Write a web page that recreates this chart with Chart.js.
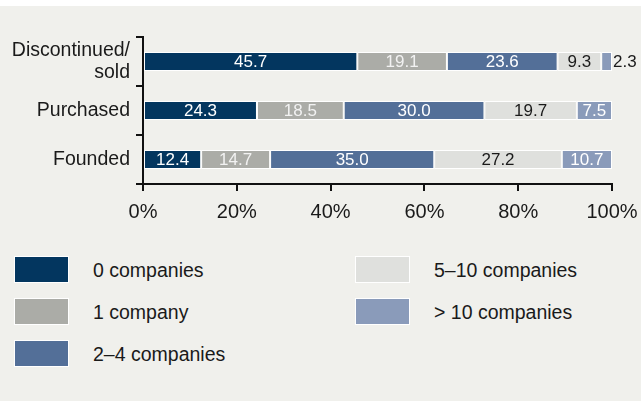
<!DOCTYPE html>
<html>
<head>
<meta charset="utf-8">
<script src="https://cdn.jsdelivr.net/npm/chart.js@4/dist/chart.umd.min.js"></script>
<style>
  html, body { margin:0; padding:0; }
  body { width:641px; height:401px; background:#f0f0ec; position:relative; overflow:hidden; font-family:"Liberation Sans",sans-serif; color:#1a1a1a; }
  #topstrip { position:absolute; left:0; top:0; width:641px; height:6px; background:#ffffff; }
  #wrap { position:absolute; left:0; top:0; width:641px; height:240px; }
  .sw { position:absolute; width:53px; height:25px; border:1px solid #ffffff; }
  .lt { position:absolute; height:27px; line-height:27px; font-size:19.5px; white-space:nowrap; }
</style>
</head>
<body>
<div id="topstrip"></div>
<div id="wrap"><canvas id="c" width="641" height="240"></canvas></div>
<div id="legend"></div>
<script>
// ---- data ----
const categories = [["Discontinued/", "sold"], "Purchased", "Founded"];
const seriesNames = ["0 companies", "1 company", "2\u20134 companies", "5\u201310 companies", "> 10 companies"];
const zeroCompanies   = [45.7, 24.3, 12.4];
const oneCompany      = [19.1, 18.5, 14.7];
const twoToFour       = [23.6, 30.0, 35.0];
const fiveToTen       = [9.3, 19.7, 27.2];
const moreThanTen     = [2.3, 7.5, 10.7];
const xTickValues     = [0, 20, 40, 60, 80, 100];

// ---- styles ----
const colors      = ["#03365f", "#abaca7", "#536f98", "#dfe0dd", "#8a9bba"];
const labelColors = ["#ffffff", "#f2f2f2", "#ffffff", "#1a1a1a", "#ffffff"];
const seriesData  = [zeroCompanies, oneCompany, twoToFour, fiveToTen, moreThanTen];

const FONT = "'Liberation Sans',sans-serif";

const barLabels = {
  id: 'barLabels',
  afterDatasetsDraw(chart) {
    const ctx = chart.ctx;
    ctx.save();
    ctx.font = "17px " + FONT;
    ctx.textBaseline = 'middle';
    chart.data.datasets.forEach((ds, i) => {
      const meta = chart.getDatasetMeta(i);
      meta.data.forEach((bar, j) => {
        const text = ds.data[j].toFixed(1);
        const w = ctx.measureText(text).width;
        const left = Math.min(bar.x, bar.base), right = Math.max(bar.x, bar.base);
        if (w + 2 > right - left) {
          ctx.textAlign = 'left';
          ctx.fillStyle = '#1a1a1a';
          ctx.fillText(text, right + 1, bar.y + 1);
        } else {
          ctx.textAlign = 'center';
          ctx.fillStyle = labelColors[i];
          ctx.fillText(text, (left + right) / 2, bar.y + 1);
        }
      });
    });
    ctx.restore();
  }
};

new Chart(document.getElementById('c'), {
  type: 'bar',
  data: {
    labels: categories,
    datasets: seriesData.map((d, i) => ({
      label: seriesNames[i],
      data: d,
      backgroundColor: colors[i],
      borderColor: '#ffffff',
      borderWidth: 1,
      borderSkipped: false,
      categoryPercentage: 1,
      barPercentage: 0.39
    }))
  },
  options: {
    indexAxis: 'y',
    responsive: false,
    animation: false,
    events: [],
    layout: { padding: { top: 37, right: 29, left: 0, bottom: 0 } },
    plugins: { legend: { display: false }, tooltip: { enabled: false } },
    scales: {
      x: {
        stacked: true,
        min: 0, max: 100,
        afterBuildTicks: (s) => { s.ticks = xTickValues.map(v => ({ value: v })); },
        ticks: {
          callback: (v) => v + '%',
          color: '#1a1a1a',
          font: { family: FONT, size: 20 },
          padding: 9,
          maxRotation: 0
        },
        grid: { drawOnChartArea: false, drawTicks: true, tickLength: 7, color: '#111', lineWidth: 2 },
        border: { display: true, color: '#111', width: 2 },
        afterFit: (s) => { s.height = 56; s.paddingLeft = 0; s.paddingRight = 0; }
      },
      y: {
        stacked: true,
        ticks: {
          color: '#1a1a1a',
          font: { family: FONT, size: 19.5, lineHeight: 1.12 },
          padding: 6
        },
        grid: { offset: true, drawOnChartArea: false, drawTicks: true, tickLength: 7, color: '#111', lineWidth: 2 },
        border: { display: true, color: '#111', width: 2 },
        afterFit: (s) => { s.width = 143; s.paddingTop = 0; s.paddingBottom = 0; }
      }
    }
  },
  plugins: [barLabels]
});

// ---- HTML legend built from series names/colours ----
const legend = document.getElementById('legend');
const colX = [14, 355], rowY = [256, 298, 340];
seriesNames.forEach((name, i) => {
  const col = i < 3 ? 0 : 1, row = i < 3 ? i : i - 3;
  const sw = document.createElement('div');
  sw.className = 'sw';
  sw.style.left = colX[col] + 'px';
  sw.style.top = rowY[row] + 'px';
  sw.style.background = colors[i];
  legend.appendChild(sw);
  const t = document.createElement('div');
  t.className = 'lt';
  t.style.left = (colX[col] + 79) + 'px';
  t.style.top = (rowY[row] + 1) + 'px';
  t.textContent = name;
  legend.appendChild(t);
});
</script>
</body>
</html>
